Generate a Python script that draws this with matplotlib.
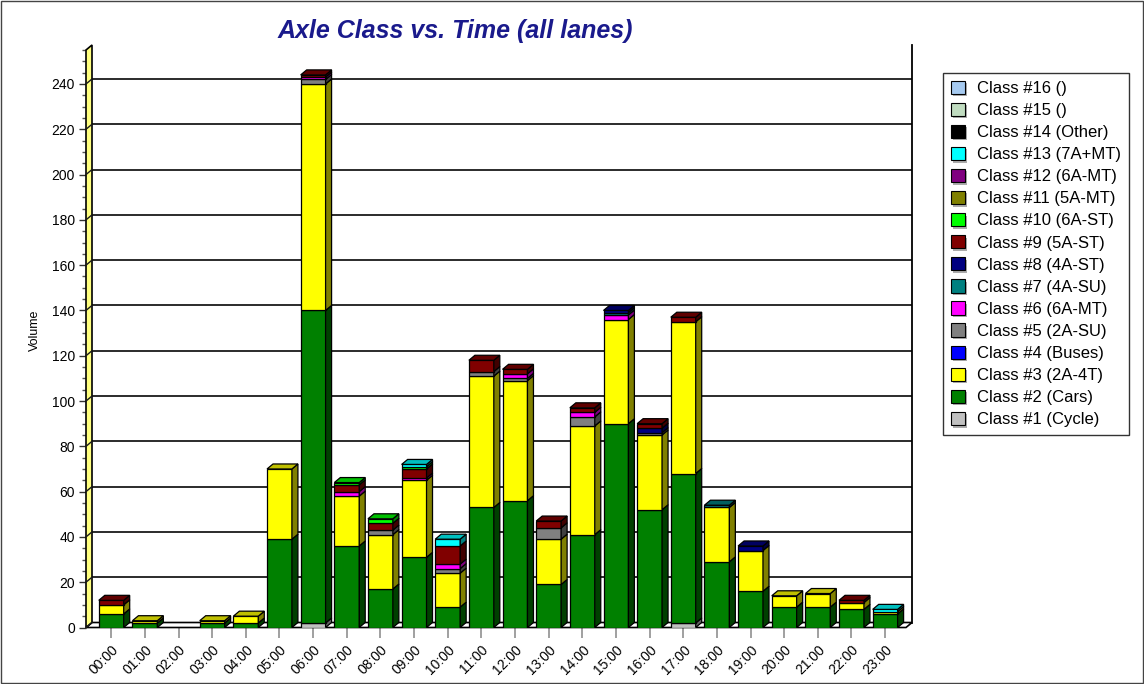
import matplotlib
matplotlib.use('Agg')
import matplotlib.pyplot as plt
import numpy as np
from matplotlib.patches import Polygon, Rectangle, Patch
from matplotlib.transforms import IdentityTransform, ScaledTranslation
from matplotlib.ticker import MultipleLocator
import matplotlib.patheffects as pe
import matplotlib.colors as mcolors

plt.rcParams['font.family'] = ['Liberation Sans', 'DejaVu Sans']

# ---------------- data ----------------
hours = ["00:00", "01:00", "02:00", "03:00", "04:00", "05:00", "06:00", "07:00",
         "08:00", "09:00", "10:00", "11:00", "12:00", "13:00", "14:00", "15:00",
         "16:00", "17:00", "18:00", "19:00", "20:00", "21:00", "22:00", "23:00"]

class_names = ["Class #1 (Cycle)", "Class #2 (Cars)", "Class #3 (2A-4T)", "Class #4 (Buses)",
               "Class #5 (2A-SU)", "Class #6 (6A-MT)", "Class #7 (4A-SU)", "Class #8 (4A-ST)",
               "Class #9 (5A-ST)", "Class #10 (6A-ST)", "Class #11 (5A-MT)", "Class #12 (6A-MT)",
               "Class #13 (7A+MT)", "Class #14 (Other)", "Class #15 ()", "Class #16 ()"]

class_colors = ["#C0C0C0", "#008000", "#FFFF00", "#0000FF", "#808080", "#FF00FF", "#008080",
                "#000080", "#800000", "#00FF00", "#808000", "#800080", "#00FFFF", "#000000",
                "#C0DCC0", "#A6CAF0"]

c1 = [0, 0, 0, 0, 0, 0, 2, 0, 0, 0, 0, 0, 0, 0, 0, 0, 0, 2, 0, 0, 0, 0, 0, 0]
c2 = [6, 2, 0, 2, 2, 39, 138, 36, 17, 31, 9, 53, 56, 19, 41, 90, 52, 66, 29, 16, 9, 9, 8, 6]
c3 = [4, 1, 0, 1, 3, 31, 100, 22, 24, 34, 15, 58, 53, 20, 48, 46, 33, 67, 24, 18, 5, 6, 3, 1]
c4 = [0, 0, 0, 0, 0, 0, 0, 0, 0, 0, 0, 0, 0, 0, 0, 0, 0, 0, 0, 0, 0, 0, 0, 0]
c5 = [0, 0, 0, 0, 0, 0, 2, 0, 2, 0, 2, 2, 1, 5, 4, 0, 1, 0, 0, 0, 0, 0, 0, 0]
c6 = [0, 0, 0, 0, 0, 0, 1, 2, 0, 1, 2, 0, 2, 0, 2, 2, 0, 0, 0, 0, 0, 0, 0, 0]
c7 = [0, 0, 0, 0, 0, 0, 0, 0, 0, 0, 0, 0, 0, 0, 0, 1, 0, 0, 1, 0, 0, 0, 0, 0]
c8 = [0, 0, 0, 0, 0, 0, 0, 0, 0, 0, 0, 0, 0, 0, 0, 1, 2, 0, 0, 2, 0, 0, 0, 0]
c9 = [2, 0, 0, 0, 0, 0, 1, 3, 3, 4, 8, 5, 2, 3, 2, 0, 2, 2, 0, 0, 0, 0, 1, 0]
c10 = [0, 0, 0, 0, 0, 0, 0, 1, 2, 1, 0, 0, 0, 0, 0, 0, 0, 0, 0, 0, 0, 0, 0, 0]
c11 = [0, 0, 0, 0, 0, 0, 0, 0, 0, 0, 0, 0, 0, 0, 0, 0, 0, 0, 0, 0, 0, 0, 0, 0]
c12 = [0, 0, 0, 0, 0, 0, 0, 0, 0, 0, 0, 0, 0, 0, 0, 0, 0, 0, 0, 0, 0, 0, 0, 0]
c13 = [0, 0, 0, 0, 0, 0, 0, 0, 0, 1, 3, 0, 0, 0, 0, 0, 0, 0, 0, 0, 0, 0, 0, 1]
c14 = [0, 0, 0, 0, 0, 0, 0, 0, 0, 0, 0, 0, 0, 0, 0, 0, 0, 0, 0, 0, 0, 0, 0, 0]
c15 = [0, 0, 0, 0, 0, 0, 0, 0, 0, 0, 0, 0, 0, 0, 0, 0, 0, 0, 0, 0, 0, 0, 0, 0]
c16 = [0, 0, 0, 0, 0, 0, 0, 0, 0, 0, 0, 0, 0, 0, 0, 0, 0, 0, 0, 0, 0, 0, 0, 0]

series = [c1, c2, c3, c4, c5, c6, c7, c8, c9, c10, c11, c12, c13, c14, c15, c16]

# ---------------- layout ----------------
W, H = 1144, 684
fig = plt.figure(figsize=(W / 100, H / 100), dpi=100)
fig.patch.set_facecolor('white')
AX_L, AX_R, AX_B, AX_T = 86, 906, 627.5, 50
ax = fig.add_axes([AX_L / W, 1 - AX_B / H, (AX_R - AX_L) / W, (AX_B - AX_T) / H])
X0, X1 = -0.75, 23.62
Y0, Y1 = 0, 255
ax.set_xlim(X0, X1)
ax.set_ylim(Y0, Y1)
ax.patch.set_visible(False)
for s in ax.spines.values():
    s.set_visible(False)

DX, DY = 6, 5          # depth of the 3D effect in pixels
BW = 0.74              # bar width
EDGE_LW = 0.9

def disp(x, y, dx=0, dy=0):
    p = ax.transData.transform((x, y))
    return (p[0] + dx, p[1] + dy)

def poly(verts, fc, ec='black', lw=EDGE_LW, z=3):
    p = Polygon(verts, closed=True, facecolor=fc, edgecolor=ec, linewidth=lw,
                transform=IdentityTransform(), zorder=z, clip_on=False)
    ax.add_patch(p)

def shade(color, f):
    r, g, b = mcolors.to_rgb(color)
    return (r * f, g * f, b * f)

back = ax.transData + ScaledTranslation(DX / 100, DY / 100, fig.dpi_scale_trans)

# back-wall gridlines
for v in range(20, 241, 20):
    ax.plot([X0, X1], [v, v], transform=back, color='#1a1a1a', lw=1.3, zorder=1,
            clip_on=False, solid_capstyle='butt')

# floor
poly([disp(X0, 0), disp(X1, 0), disp(X1, 0, DX, DY), disp(X0, 0, DX, DY)],
     'white', lw=1.2, z=2)
# left wall
poly([disp(X0, 0), disp(X0, 0, DX, DY), disp(X0, Y1, DX, DY), disp(X0, Y1)],
     '#FFFF80', lw=1.2, z=2)
for v in range(0, 241, 20):
    a = disp(X0, v)
    b = disp(X0, v, DX, DY)
    ax.plot([a[0], b[0]], [a[1], b[1]], transform=IdentityTransform(), color='#1a1a1a',
            lw=1.0, zorder=2.5, clip_on=False)
# right back edge
a = disp(X1, 0, DX, DY)
b = disp(X1, Y1, DX, DY)
ax.plot([a[0], b[0]], [a[1], b[1]], transform=IdentityTransform(), color='black',
        lw=1.3, zorder=2, clip_on=False)

# ---------------- stacked 3D bars ----------------
x = np.arange(len(hours))
data = np.array(series, dtype=float)
bottoms = np.zeros(len(hours))
top_color = [None] * len(hours)
for vals, col in zip(data, class_colors):
    mask = vals > 0
    if mask.any():
        ax.bar(x[mask], vals[mask], bottom=bottoms[mask], width=BW, color=col,
               edgecolor='black', linewidth=EDGE_LW, zorder=3)
        for i in np.where(mask)[0]:
            xr = x[i] + BW / 2
            y0b, y1b = bottoms[i], bottoms[i] + vals[i]
            poly([disp(xr, y0b), disp(xr, y1b), disp(xr, y1b, DX, DY), disp(xr, y0b, DX, DY)],
                 shade(col, 0.5))
            top_color[i] = col
    bottoms = bottoms + vals

for i in range(len(hours)):
    if top_color[i] is None:
        continue
    xl, xr, t = x[i] - BW / 2, x[i] + BW / 2, bottoms[i]
    poly([disp(xl, t), disp(xr, t), disp(xr, t, DX, DY), disp(xl, t, DX, DY)],
         shade(top_color[i], 0.75))

# ---------------- axes ticks ----------------
ax.set_yticks(range(0, 241, 20))
ax.yaxis.set_minor_locator(MultipleLocator(5))
ax.tick_params(axis='y', which='major', length=5, width=1, color='#333333',
               labelsize=10, pad=3)
ax.tick_params(axis='y', which='minor', length=3, width=1, color='#555555')
ax.set_xticks(x)
ax.set_xticklabels(hours, rotation=45, ha='right', rotation_mode='anchor', fontsize=10)
ax.tick_params(axis='x', length=7, width=1.2, color='#909090', pad=4)

# ---------------- texts ----------------
fig.text(455 / W, 1 - 31 / H, 'Axle Class vs. Time (all lanes)', ha='center', va='center',
         fontsize=18, fontweight='bold', fontstyle='italic', color='#1a1a8c')
fig.text(35 / W, 1 - 330 / H, 'Volume', rotation=90, ha='center', va='center', fontsize=9)

# ---------------- legend ----------------
handles = []
for name, col in zip(class_names[::-1], class_colors[::-1]):
    handles.append(Patch(facecolor=col, edgecolor='black', linewidth=0.8, label=name,
                         path_effects=[pe.withSimplePatchShadow(offset=(1.8, -1.8),
                                                                shadow_rgbFace='#888888',
                                                                alpha=0.7)]))
leg = fig.legend(handles=handles, loc='upper left', bbox_to_anchor=(943 / W, 1 - 73 / H),
                 frameon=True, fancybox=False, edgecolor='black', fontsize=12,
                 handlelength=0.85, handleheight=0.85, handletextpad=0.75,
                 labelspacing=0.40, borderpad=0.45, borderaxespad=0)
leg.get_frame().set_linewidth(1)

# outer border
fig.add_artist(Rectangle((0.001, 0.001), 0.998, 0.998, transform=fig.transFigure,
                         fill=False, edgecolor='#444444', linewidth=1))

fig.savefig('out.png', dpi=100)
